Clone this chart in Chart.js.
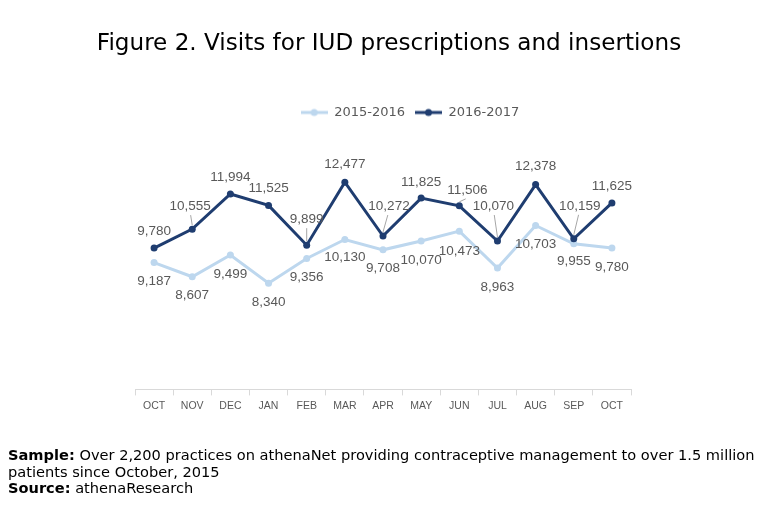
<!DOCTYPE html>
<html>
<head>
	<meta charset="UTF-8">
	<title>Figure 2. Visits for IUD prescriptions and insertions</title>
	<script src="https://cdn.jsdelivr.net/npm/chart.js@4.4.1/dist/chart.umd.min.js"></script>
	<style>
		body { margin: 0; background: #fff; }
		#wrap { position: relative; width: 768px; height: 510px; }
		#title { position: absolute; left: 5px; top: 28px; width: 768px; text-align: center; font-family: "DejaVu Sans"; font-size: 23.1px; line-height: 28px; color: #000; white-space: nowrap; }
		#note { position: absolute; left: 8px; top: 447px; font-family: "DejaVu Sans"; font-size: 14.6px; line-height: 16.5px; color: #000; white-space: nowrap; }
	</style>
	<script>
		// values
		var months = ['OCT', 'NOV', 'DEC', 'JAN', 'FEB', 'MAR', 'APR', 'MAY', 'JUN', 'JUL', 'AUG', 'SEP', 'OCT'];
		var visits1516 = [9187, 8607, 9499, 8340, 9356, 10130, 9708, 10070, 10473, 8963, 10703, 9955, 9780];
		var visits1617 = [9780, 10555, 11994, 11525, 9899, 12477, 10272, 11825, 11506, 10070, 12378, 10159, 11625];

		// label placement relative to each point: dx, dy, leader line
		var offs1516 = [[0,19],[0,19],[0,19],[0,19],[0,19],[0,18],[0,18],[0,19],[0,20],[0,19],[0,19],[0,17],[0,19]];
		var offs1617 = [[0,-17],[-2,-23,1],[0,-17],[0,-17],[0,-26,1],[0,-18],[6,-30,1],[0,-16],[8,-16,1],[-4,-35,1],[0,-18],[6,-33,1],[0,-17]];

		function lineIcon(color) {
			var c = document.createElement('canvas');
			c.width = 27; c.height = 10;
			var g = c.getContext('2d');
			g.strokeStyle = color; g.lineWidth = 3;
			g.beginPath(); g.moveTo(0, 5); g.lineTo(27, 5); g.stroke();
			g.fillStyle = color;
			g.beginPath(); g.arc(13.5, 5, 3.5, 0, Math.PI * 2); g.fill();
			return c;
		}

		var pointLabels = {
			id: 'pointLabels',
			afterDatasetsDraw: function(chart) {
				var ctx = chart.ctx;
				var allOffs = [offs1516, offs1617];
				ctx.save();
				ctx.font = '13.5px "Liberation Sans"';
				ctx.textAlign = 'center';
				ctx.textBaseline = 'middle';
				chart.data.datasets.forEach(function(ds, i) {
					var meta = chart.getDatasetMeta(i);
					meta.data.forEach(function(pt, j) {
						var o = allOffs[i][j];
						var lx = pt.x + o[0], ly = pt.y + o[1];
						if (o[2]) {
							ctx.strokeStyle = '#A6A6A6';
							ctx.lineWidth = 1;
							ctx.beginPath();
							ctx.moveTo(pt.x + o[0] * 0.8, ly + 9);
							ctx.lineTo(pt.x, pt.y - 4);
							ctx.stroke();
						}
						ctx.fillStyle = '#595959';
						ctx.fillText(ds.data[j].toLocaleString('en-US'), lx, ly);
					});
				});
				ctx.restore();
			}
		};

		// the legend sits a bit right of the plot centre in the original
		var legendShift = {
			id: 'legendShift',
			afterLayout: function(chart) {
				chart.legend.left += 27;
				chart.legend.right += 27;
			}
		};

		window.onload = function() {
			var ctx = document.getElementById('chart').getContext('2d');
			new Chart(ctx, {
				type: 'line',
				data: {
					labels: months,
					datasets: [{
						label: '2015-2016',
						data: visits1516,
						borderColor: '#BDD7EE',
						backgroundColor: '#BDD7EE',
						borderWidth: 3,
						pointRadius: 3.5,
						pointBorderWidth: 0,
						pointStyle: 'circle',
						lineTension: 0,
						order: 1
					}, {
						label: '2016-2017',
						data: visits1617,
						borderColor: '#1F3D70',
						backgroundColor: '#1F3D70',
						borderWidth: 3,
						pointRadius: 3.5,
						pointBorderWidth: 0,
						pointStyle: 'circle',
						lineTension: 0,
						order: 0
					}]
				},
				options: {
					responsive: true,
					maintainAspectRatio: false,
					animation: false,
					layout: { padding: { left: 135, right: 137, top: 96, bottom: 94 } },
					plugins: {
						title: { display: false },
						legend: {
							display: true,
							labels: {
								color: '#595959',
								font: { family: 'DejaVu Sans', size: 13 },
								usePointStyle: true,
								pointStyleWidth: 27,
								padding: 10,
								sort: function(a, b) { return a.datasetIndex - b.datasetIndex; },
								generateLabels: function(chart) {
									return chart.data.datasets.map(function(ds, i) {
										return {
											text: ds.label,
											pointStyle: lineIcon(ds.borderColor),
											fontColor: '#595959',
											strokeStyle: ds.borderColor,
											fillStyle: ds.borderColor,
											lineWidth: 0,
											datasetIndex: i
										};
									});
								}
							}
						},
						tooltip: { enabled: false }
					},
					scales: {
						x: {
							offset: true,
							grid: { offset: true, drawOnChartArea: false, drawTicks: true, tickLength: 6, color: '#D9D9D9' },
							border: { display: true, color: '#D9D9D9' },
							ticks: { color: '#595959', font: { family: 'Liberation Sans', size: 10.5 }, padding: 4 }
						},
						y: {
							display: false,
							min: 4000,
							max: 14650
						}
					}
				},
				plugins: [pointLabels, legendShift]
			});
		};
	</script>
</head>
<body>
	<div id="wrap">
		<div id="title">Figure 2. Visits for IUD prescriptions and insertions</div>
		<canvas id="chart"></canvas>
		<div id="note">
			<b>Sample:</b> Over 2,200 practices on athenaNet providing contraceptive management to over 1.5 million<br>
			patients since October, 2015<br>
			<b>Source:</b> athenaResearch
		</div>
	</div>
</body>
</html>
